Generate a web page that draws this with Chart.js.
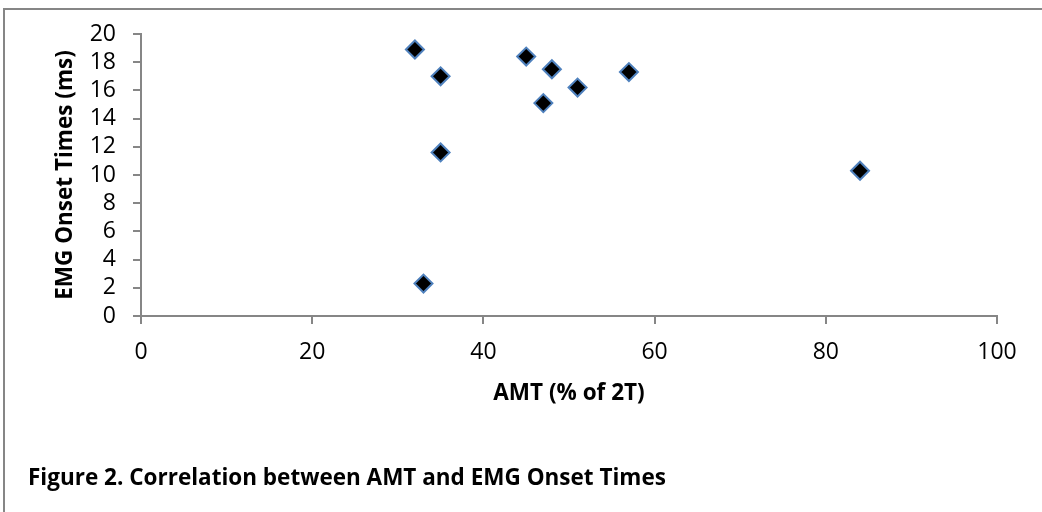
<!DOCTYPE html>
<html>
<head>
<meta charset="utf-8">
<script src="https://cdn.jsdelivr.net/npm/chart.js@4.4.1/dist/chart.umd.min.js"></script>
<style>
  html, body { margin: 0; padding: 0; background: #fff; }
  .wrap { position: relative; width: 1042px; height: 512px; overflow: hidden; }
  .frame { position: absolute; left: 3px; top: 8px; width: 1100px; height: 600px; border: 2px solid #868686; box-sizing: border-box; }
  canvas { position: absolute; left: 0; top: 0; }
  .caption { position: absolute; left: 28px; top: 462px; font: bold 22.5px/30px "Open Sans", sans-serif; color: #000; white-space: nowrap; }
</style>
</head>
<body>
<div class="wrap">
  <div class="frame"></div>
  <canvas id="myChart" width="1042" height="512"></canvas>
  <div class="caption">Figure 2. Correlation between AMT and EMG Onset Times</div>
</div>
<script>
// AMT (% of 2T) vs EMG onset (ms)
let amt   = [32, 33, 35, 35, 45, 47, 48, 51, 57, 84];
let onset = [18.9, 2.3, 17.0, 11.6, 18.4, 15.1, 17.5, 16.2, 17.3, 10.3];
let xTitle = 'AMT (% of 2T)';
let yTitle = 'EMG Onset Times (ms)';

let points = amt.map((v, i) => ({x: v, y: onset[i]}));

let axisGrey = '#868686';
let tickFont = {family: 'Open Sans', size: 23, lineHeight: 1};
let titleFont = {family: 'Open Sans', size: 22.5, weight: 'bold', lineHeight: 1.2};

let ctx = document.getElementById('myChart').getContext('2d');
let myChart = new Chart(ctx, {
  type: 'scatter',
  data: {
    datasets: [{
      label: 'onset',
      data: points,
      pointStyle: 'rectRot',
      pointRadius: 9,
      pointHoverRadius: 9,
      backgroundColor: '#000000',
      borderColor: '#4f81bd',
      borderWidth: 2
    }]
  },
  options: {
    responsive: false,
    animation: false,
    layout: { padding: { top: 34, right: 45, bottom: 0, left: 0 } },
    plugins: { legend: { display: false }, tooltip: { enabled: false } },
    scales: {
      x: {
        type: 'linear',
        min: 0, max: 100,
        afterFit: s => { s.height = 196; },
        border: { color: axisGrey, width: 2 },
        grid: { drawOnChartArea: false, drawTicks: true, tickLength: 8, color: axisGrey, lineWidth: 2 },
        ticks: { stepSize: 20, color: '#000', font: tickFont, padding: 17, maxRotation: 0, autoSkip: false },
        title: { display: true, text: xTitle, color: '#000', font: titleFont, padding: { top: 0, bottom: 105 } }
      },
      y: {
        min: 0, max: 20,
        afterFit: s => { s.width = 141; },
        border: { color: axisGrey, width: 2 },
        grid: { drawOnChartArea: false, drawTicks: true, tickLength: 8, color: axisGrey, lineWidth: 2 },
        ticks: { stepSize: 2, color: '#000', font: tickFont, padding: 17, autoSkip: false },
        title: { display: true, text: yTitle, color: '#000', font: titleFont, padding: { top: 52, bottom: 0 } }
      }
    }
  }
});
</script>
</body>
</html>
